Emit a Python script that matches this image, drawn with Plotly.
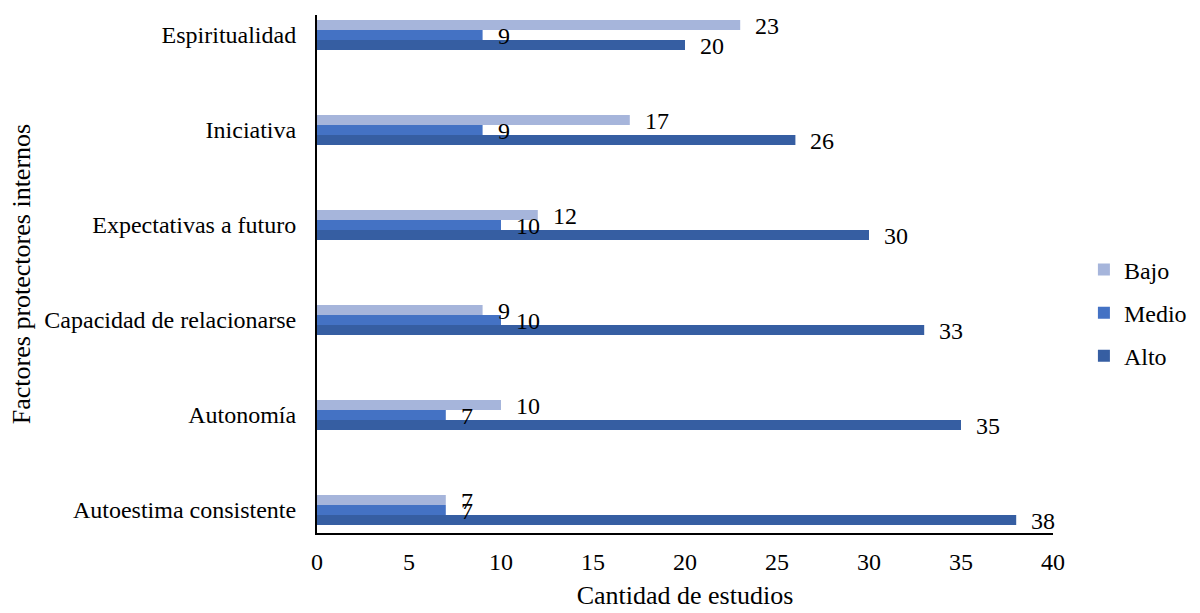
import plotly.graph_objects as go

# Factores protectores internos (de abajo hacia arriba)
categorias = ["Autoestima consistente", "Autonomía", "Capacidad de relacionarse",
              "Expectativas a futuro", "Iniciativa", "Espiritualidad"]
bajo = [7, 10, 9, 12, 17, 23]
medio = [7, 7, 10, 10, 9, 9]
alto = [38, 35, 33, 30, 26, 20]

# nombre, valores, color, desplazamiento vertical de la etiqueta, orden en leyenda
series = [
    ("Alto", alto, "#365EA2", -11, 3),
    ("Medio", medio, "#4472C4", -1, 2),
    ("Bajo", bajo, "#A6B5DB", 9, 1),
]

FONT = "Liberation Serif, Times New Roman, serif"

fig = go.Figure()
annotations = []
for name, vals, color, yshift, rank in series:
    fig.add_trace(go.Bar(
        y=categorias, x=vals, name=name, orientation="h",
        legendgroup=name, legendrank=rank,
        marker=dict(color=color, line=dict(width=0)),
    ))
    for cat, v in zip(categorias, vals):
        annotations.append(dict(
            x=v, y=cat, text=str(v), showarrow=False,
            xanchor="left", yanchor="middle", xshift=13, yshift=yshift,
            font=dict(family=FONT, size=24, color="#000000"),
        ))

fig.update_layout(
    width=1200, height=613,
    margin=dict(l=317, r=147, t=15, b=80, autoexpand=False),
    paper_bgcolor="white", plot_bgcolor="white",
    barmode="group", bargap=0.684, bargroupgap=0,
    font=dict(family=FONT, size=24, color="#000000"),
    annotations=annotations,
    legend=dict(
        traceorder="grouped", x=1.042, y=0.425, xanchor="left", yanchor="middle",
        font=dict(family=FONT, size=24), itemwidth=30, tracegroupgap=9,
    ),
    showlegend=True,
)
fig.update_xaxes(
    range=[0, 40], dtick=5, showgrid=False, zeroline=False, automargin=False,
    showline=True, linecolor="#000000", linewidth=2,
    ticks="", ticklabelstandoff=6,
    tickfont=dict(family=FONT, size=24),
    title=dict(text="Cantidad de estudios", font=dict(family=FONT, size=26), standoff=12),
)
fig.update_yaxes(
    type="category", range=[-0.242, 5.21], showgrid=False, zeroline=False, automargin=False,
    showline=True, linecolor="#000000", linewidth=2,
    ticks="", ticklabelstandoff=14,
    tickfont=dict(family=FONT, size=24),
    title=dict(text="Factores protectores internos", font=dict(family=FONT, size=26), standoff=6),
)

fig.write_html("out.html")
